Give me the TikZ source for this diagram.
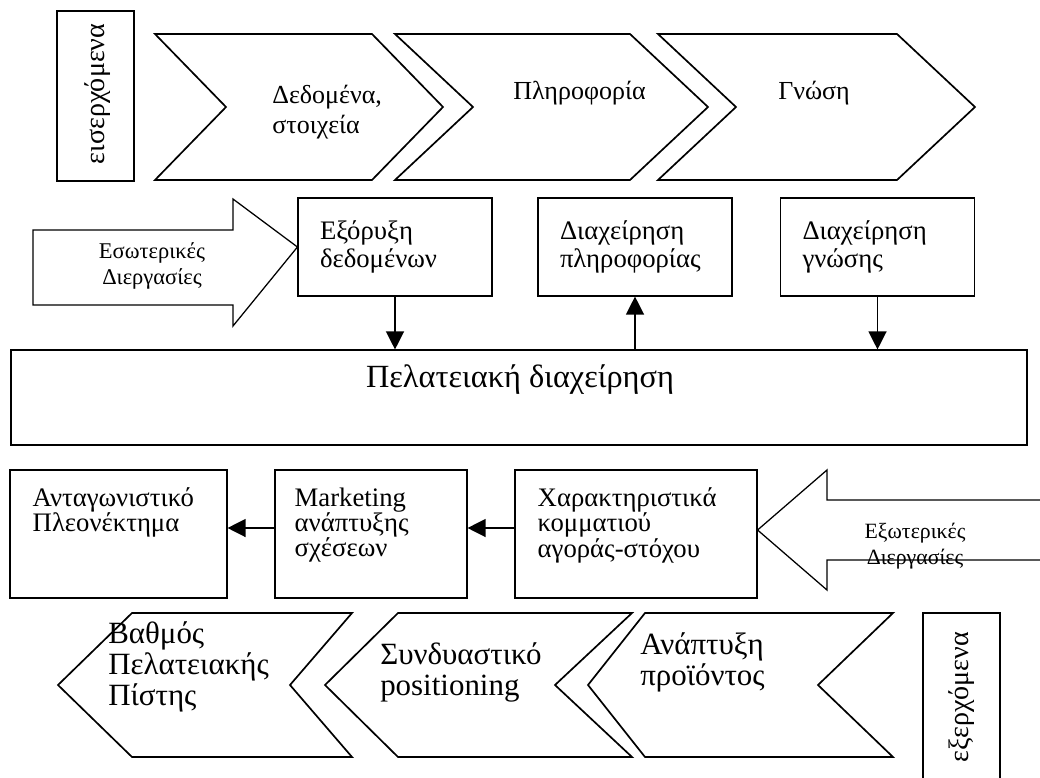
\documentclass[tikz,border=0pt]{standalone}
\usepackage{fontspec}
\setmainfont{Liberation Serif}
\usepackage{tikz}
\usetikzlibrary{arrows.meta,positioning,calc}

\begin{document}
\begin{tikzpicture}[
  chev/.style={draw=black, line width=1.2pt, line join=miter},
  blk/.style={draw=black, line width=0.9pt, line join=miter},
  box/.style={draw=black, line width=0.8pt, minimum width=4.85cm, minimum height=2.45cm,
              text width=3.75cm, inner xsep=0.55cm, align=left,
              font=\fontsize{19}{19.5}\selectfont},
  lowbox/.style={draw=black, line width=0.8pt, minimum height=3.2cm},
  vbox/.style={draw=black, line width=0.8pt, minimum width=1.925cm},
  txt/.style={inner sep=0pt, align=left},
  toptxt/.style={txt, font=\fontsize{18.5}{21.3}\selectfont},
  bottxt/.style={txt, font=\fontsize{22}{22}\selectfont},
  lowtxt/.style={txt, anchor=north west, font=\fontsize{19}{18}\selectfont},
  vtxt/.style={inner sep=0pt, rotate=90, font=\fontsize{20}{20}\selectfont},
  flow/.style={-{Triangle[length=0.45cm,width=0.45cm]}, line width=0.9pt}
]
\useasboundingbox (0,0) rectangle (26,-19.45);

%% ---------- INPUT + TOP CHEVRONS ----------
\node[vbox, minimum height=4.25cm] (in) at (2.3875,-2.4) {};
\node[vtxt] (inlbl) at (2.45,-2.35) {εισερχόμενα};

\foreach \l/\r/\d in {3.875/9.3/1.775, 9.875/15.75/1.95, 16.45/22.425/1.95}
  \draw[chev] (\l,-0.85) -- (\r,-0.85) -- ++(\d,-1.825) -- (\r,-4.5)
    -- (\l,-4.5) -- ++(\d,1.825) -- cycle;

\node[toptxt, anchor=west] (c1) at (6.8,-2.8)    {Δεδομένα,\\στοιχεία};
\node[toptxt, anchor=west] (c2) at (12.825,-2.33) {Πληροφορία};
\node[toptxt, anchor=west] (c3) at (19.45,-2.33)  {Γνώση};

%% ---------- MIDDLE ROW ----------
\node[box] (e1) at (9.875,-6.175)  {Εξόρυξη\\δεδομένων};
\node[box] (e2) at (15.875,-6.175) {Διαχείρηση\\πληροφορίας};
\node[box] (e3) at (21.9375,-6.175) {Διαχείρηση\\γνώσης};

\draw[blk] (0.825,-5.75) -- (5.825,-5.75) -- (5.825,-4.975) -- (e1.west)
  -- (5.825,-8.15) -- (5.825,-7.625) -- (0.825,-7.625) -- cycle;
\node[txt, align=center, font=\fontsize{16}{19}\selectfont] (inproc) at (3.8,-6.65)
  {Εσωτερικές\\Διεργασίες};

\node[draw, line width=0.8pt, minimum width=25.4cm, minimum height=2.375cm]
  (crm) at (12.975,-9.9375) {};
\node[inner sep=0pt, font=\fontsize{23}{24}\selectfont] (crmlbl) at (13.0,-9.5)
  {Πελατειακή διαχείρηση};

\draw[flow] (e1.south) -- (e1.south |- crm.north);
\draw[flow] (crm.north -| e2.south) -- (e2.south);
\draw[flow] (e3.south) -- (e3.south |- crm.north);

%% ---------- LOWER ROW ----------
\node[lowbox, minimum width=5.425cm] (b1) at (2.9625,-13.35) {};
\node[lowbox, minimum width=4.8cm]   (b2) at (9.275,-13.35)  {};
\node[lowbox, minimum width=6.05cm]  (b3) at (15.9,-13.35)   {};
\node[lowtxt] (b1t) at ([shift={(0.575,-0.45)}]b1.north west) {Ανταγωνιστικό\\Πλεονέκτημα};
\node[lowtxt] (b2t) at ([shift={(0.5,-0.45)}]b2.north west)   {Marketing\\ανάπτυξης\\σχέσεων};
\node[lowtxt] (b3t) at ([shift={(0.575,-0.45)}]b3.north west) {Χαρακτηριστικά\\κομματιού\\αγοράς-στόχου};

\draw[flow] ([yshift=0.15cm]b2.west) -- ([yshift=0.15cm]b1.east);
\draw[flow] ([yshift=0.15cm]b3.west) -- ([yshift=0.15cm]b2.east);

\draw[blk] ([yshift=0.1cm]b3.east) -- (20.675,-11.75) -- (20.675,-12.5) -- (26.3,-12.5)
  -- (26.3,-14) -- (20.675,-14) -- (20.675,-14.75) -- cycle;
\node[txt, align=center, font=\fontsize{15.5}{19}\selectfont] (exproc) at (22.875,-13.65)
  {Εξωτερικές\\Διεργασίες};

%% ---------- BOTTOM CHEVRONS + OUTPUT ----------
\foreach \t/\a/\r/\b in {1.45/1.85/8.8/1.55, 8.125/1.825/15.8/1.925, 14.7/1.425/22.325/1.875}
  \draw[chev] (\t,-17.125) -- ++(\a,1.8) -- (\r,-15.325) -- ++(-\b,-1.8)
    -- ++(\b,-1.8) -- ({\t+\a},-18.925) -- cycle;

\node[bottxt, anchor=west] (d1) at (2.7,-16.68)   {Βαθμός\\Πελατειακής\\Πίστης};
\node[bottxt, anchor=west] (d2) at (9.5,-16.8)    {Συνδυαστικό\\positioning};
\node[bottxt, anchor=west] (d3) at (16.0,-16.55)  {Ανάπτυξη\\προϊόντος};

\node[vbox, minimum height=4.5cm] (out) at (24.0375,-17.575) {};
\node[vtxt] (outlbl) at (24.04,-17.43) {εξερχόμενα};

\end{tikzpicture}
\end{document}
